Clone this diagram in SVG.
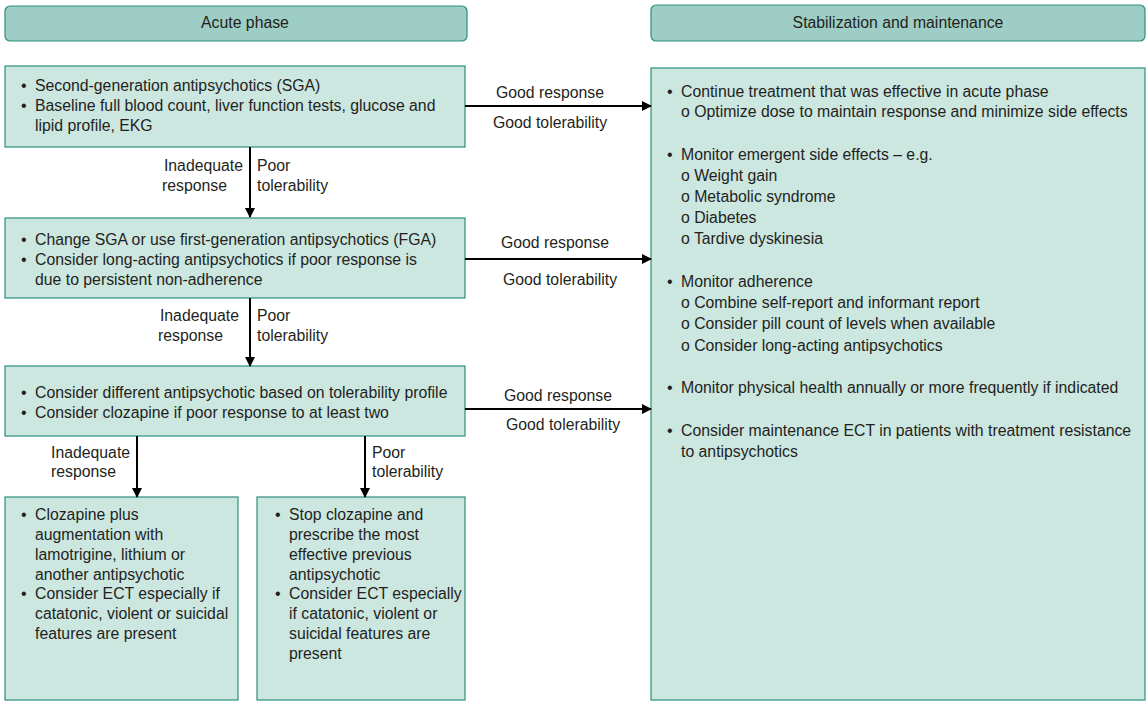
<svg xmlns="http://www.w3.org/2000/svg" width="1146" height="702" viewBox="0 0 1146 702">
  <defs>
    <marker id="arrow" markerWidth="10" markerHeight="10" refX="9" refY="5" orient="auto" markerUnits="userSpaceOnUse">
      <path d="M0,0 L10,5 L0,10 Z" fill="#000"/>
    </marker>
    <style>
      .hdr { fill: #9dcdc4; stroke: #2b8f7e; stroke-width: 1.2; }
      .box { fill: #cce6e0; stroke: #2b8f7e; stroke-width: 1.2; }
      text { font-family: "Liberation Sans", Arial, sans-serif; font-size: 15.8px; fill: #231f20; }
      .b { font-size: 16px; }
      .c { text-anchor: middle; }
      .r { text-anchor: end; }
      .edge { stroke: #000; stroke-width: 2; fill: none; marker-end: url(#arrow); }
    </style>
  </defs>
  <rect width="1146" height="702" fill="#fff"/>

  <g id="header-acute">
    <rect class="hdr" x="5" y="6" width="462" height="35" rx="5"/>
    <text class="c" x="245" y="28">Acute phase</text>
  </g>
  <g id="header-maintenance">
    <rect class="hdr" x="651" y="5" width="494" height="36" rx="5"/>
    <text class="c" x="898" y="28">Stabilization and maintenance</text>
  </g>

  <g id="step1">
    <rect class="box" x="5" y="66" width="460" height="81"/>
    <text class="b" x="21" y="91">•</text>
    <text x="35" y="91">Second-generation antipsychotics (SGA)</text>
    <text class="b" x="21" y="111">•</text>
    <text x="35" y="111">Baseline full blood count, liver function tests, glucose and</text>
    <text x="35" y="131">lipid profile, EKG</text>
  </g>

  <g id="step2">
    <rect class="box" x="5" y="218" width="460" height="80"/>
    <text class="b" x="21" y="245">•</text>
    <text x="35" y="245">Change SGA or use first-generation antipsychotics (FGA)</text>
    <text class="b" x="21" y="265">•</text>
    <text x="35" y="265">Consider long-acting antipsychotics if poor response is</text>
    <text x="35" y="285">due to persistent non-adherence</text>
  </g>

  <g id="step3">
    <rect class="box" x="5" y="366" width="460" height="70"/>
    <text class="b" x="21" y="398">•</text>
    <text x="35" y="398">Consider different antipsychotic based on tolerability profile</text>
    <text class="b" x="21" y="418">•</text>
    <text x="35" y="418">Consider clozapine if poor response to at least two</text>
  </g>

  <g id="step4a">
    <rect class="box" x="5" y="497" width="233" height="203"/>
    <text class="b" x="21" y="520">•</text>
    <text x="35" y="520">Clozapine plus</text>
    <text x="35" y="540">augmentation with</text>
    <text x="35" y="560">lamotrigine, lithium or</text>
    <text x="35" y="580">another antipsychotic</text>
    <text class="b" x="21" y="599">•</text>
    <text x="35" y="599">Consider ECT especially if</text>
    <text x="35" y="619">catatonic, violent or suicidal</text>
    <text x="35" y="639">features are present</text>
  </g>

  <g id="step4b">
    <rect class="box" x="257" y="497" width="208" height="203"/>
    <text class="b" x="275" y="520">•</text>
    <text x="289" y="520">Stop clozapine and</text>
    <text x="289" y="540">prescribe the most</text>
    <text x="289" y="560">effective previous</text>
    <text x="289" y="580">antipsychotic</text>
    <text class="b" x="275" y="599">•</text>
    <text x="289" y="599">Consider ECT especially</text>
    <text x="289" y="619">if catatonic, violent or</text>
    <text x="289" y="639">suicidal features are</text>
    <text x="289" y="659">present</text>
  </g>

  <g id="maintenance">
    <rect class="box" x="651" y="68" width="494" height="632"/>
    <text class="b" x="667" y="97">•</text>
    <text x="681" y="97">Continue treatment that was effective in acute phase</text>
    <text x="681" y="117">o Optimize dose to maintain response and minimize side effects</text>
    <text class="b" x="667" y="160">•</text>
    <text x="681" y="160">Monitor emergent side effects – e.g.</text>
    <text x="681" y="181">o Weight gain</text>
    <text x="681" y="202">o Metabolic syndrome</text>
    <text x="681" y="223">o Diabetes</text>
    <text x="681" y="244">o Tardive dyskinesia</text>
    <text class="b" x="667" y="287">•</text>
    <text x="681" y="287">Monitor adherence</text>
    <text x="681" y="308">o Combine self-report and informant report</text>
    <text x="681" y="329">o Consider pill count of levels when available</text>
    <text x="681" y="351">o Consider long-acting antipsychotics</text>
    <text class="b" x="667" y="393">•</text>
    <text x="681" y="393">Monitor physical health annually or more frequently if indicated</text>
    <text class="b" x="667" y="436">•</text>
    <text x="681" y="436">Consider maintenance ECT in patients with treatment resistance</text>
    <text x="681" y="457">to antipsychotics</text>
  </g>

  <g id="connectors">
    <line class="edge" x1="465" y1="106" x2="651" y2="106"/>
    <line class="edge" x1="465" y1="259" x2="651" y2="259"/>
    <line class="edge" x1="465" y1="409" x2="651" y2="409"/>
    <line class="edge" x1="250" y1="147" x2="250" y2="217"/>
    <line class="edge" x1="250" y1="298" x2="250" y2="366"/>
    <line class="edge" x1="137" y1="436" x2="137" y2="497"/>
    <line class="edge" x1="365" y1="436" x2="365" y2="497"/>

    <text class="c" x="550" y="98">Good response</text>
    <text class="c" x="550" y="128">Good tolerability</text>
    <text class="c" x="555" y="248">Good response</text>
    <text class="c" x="560" y="285">Good tolerability</text>
    <text class="c" x="558" y="401">Good response</text>
    <text class="c" x="563" y="430">Good tolerability</text>

    <text class="r" x="243" y="171">Inadequate</text>
    <text class="r" x="227" y="191">response</text>
    <text x="257" y="171">Poor</text>
    <text x="257" y="191">tolerability</text>

    <text class="r" x="239" y="321">Inadequate</text>
    <text class="r" x="223" y="341">response</text>
    <text x="257" y="321">Poor</text>
    <text x="257" y="341">tolerability</text>

    <text x="51" y="458">Inadequate</text>
    <text x="51" y="477">response</text>
    <text x="372" y="458">Poor</text>
    <text x="372" y="477">tolerability</text>
  </g>
</svg>
